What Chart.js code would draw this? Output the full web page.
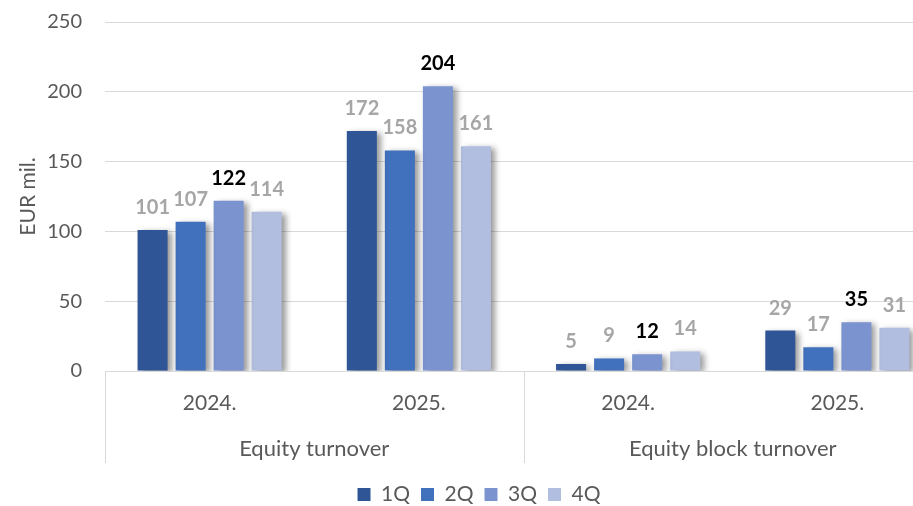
<!DOCTYPE html>
<html>
<head>
<meta charset="utf-8">
<script src="https://cdn.jsdelivr.net/npm/chart.js@4.4.1/dist/chart.umd.min.js"></script>
<style>
  body { margin: 0; background: #fff; }
  #wrap { width: 913px; height: 506px; overflow: hidden; position: relative; }
  canvas { display: block; }
</style>
</head>
<body>
<div id="wrap"><canvas id="chart" width="950" height="515"></canvas></div>
<script>
// DATA
const years = ["2024.", "2025.", "2024.", "2025."];
const groups = ["Equity turnover", "Equity block turnover"];
const q1 = [101, 172, 5, 29];
const q2 = [107, 158, 9, 17];
const q3 = [122, 204, 12, 35];
const q4 = [114, 161, 14, 31];
const yTicks = [0, 50, 100, 150, 200, 250];

const FONT = "Lato, 'Open Sans', sans-serif";
const TEXT = "#595959";
const GRID = "#D9D9D9";

// bar shadow
const shadowPlugin = {
  id: "shadow",
  beforeDatasetsDraw(chart) {
    const ctx = chart.ctx;
    ctx.save();
    ctx.shadowColor = "rgba(0,0,0,0.4)";
    ctx.shadowBlur = 6;
    ctx.shadowOffsetX = 4;
    ctx.shadowOffsetY = 2;
  },
  afterDatasetsDraw(chart) {
    chart.ctx.restore();
  }
};

// value labels above bars
const labelPlugin = {
  id: "valueLabels",
  afterDatasetsDraw(chart) {
    const ctx = chart.ctx;
    ctx.save();
    ctx.font = "bold 20px " + FONT;
    ctx.textAlign = "center";
    ctx.textBaseline = "alphabetic";
    chart.data.datasets.forEach((ds, i) => {
      const meta = chart.getDatasetMeta(i);
      meta.data.forEach((bar, j) => {
        ctx.fillStyle = i === 2 ? "#000000" : "#A6A6A6";
        ctx.fillText(ds.data[j], bar.x, bar.y - 16);
      });
    });
    ctx.restore();
  }
};

// multi level category axis: years, groups and separators
const groupAxisPlugin = {
  id: "groupAxis",
  afterDraw(chart) {
    const ctx = chart.ctx;
    const x = chart.scales.x;
    const top = chart.chartArea.bottom;
    const bottom = top + 92;
    const step = (x.right - x.left) / years.length;
    ctx.save();
    ctx.strokeStyle = GRID;
    ctx.lineWidth = 1;
    [0, 2, 4].forEach((k) => {
      const px = Math.round(x.left + k * step) + 0.5;
      ctx.beginPath();
      ctx.moveTo(px, top);
      ctx.lineTo(px, bottom);
      ctx.stroke();
    });
    ctx.fillStyle = TEXT;
    ctx.textAlign = "center";
    ctx.textBaseline = "middle";
    ctx.font = "21px " + FONT;
    years.forEach((y, i) => {
      ctx.fillText(y, x.getPixelForValue(i), top + 32);
    });
    ctx.font = "22px " + FONT;
    groups.forEach((g, k) => {
      const cx = x.left + (k * 2 + 1) * step;
      ctx.fillText(g, cx, top + 78);
    });
    ctx.restore();
  }
};

const ctx = document.getElementById("chart").getContext("2d");

const chart = new Chart(ctx, {
  type: "bar",
  data: {
    labels: years,
    datasets: [
      { label: "1Q", data: q1, backgroundColor: "#2F5597" },
      { label: "2Q", data: q2, backgroundColor: "#4170BC" },
      { label: "3Q", data: q3, backgroundColor: "#7B94D0" },
      { label: "4Q", data: q4, backgroundColor: "#B1BEE0" }
    ]
  },
  options: {
    responsive: false,
    animation: false,
    devicePixelRatio: 1,
    categoryPercentage: 0.727,
    barPercentage: 0.79,
    layout: { padding: { top: 22, right: 8, left: 16, bottom: 0 } },
    plugins: {
      tooltip: { enabled: false },
      legend: {
        position: "bottom",
        labels: {
          color: TEXT,
          font: { family: FONT, size: 21, lineHeight: 1 },
          boxWidth: 13,
          boxHeight: 13,
          padding: 11
        }
      }
    },
    scales: {
      y: {
        min: 0,
        max: 250,
        afterBuildTicks(scale) {
          scale.ticks = yTicks.map((v) => ({ value: v }));
        },
        afterFit(scale) {
          scale.width = 89;
          scale.paddingTop = 0;
          scale.paddingBottom = 0;
        },
        border: { display: false },
        grid: { color: GRID, drawTicks: false },
        ticks: { color: TEXT, font: { family: FONT, size: 20 }, padding: 23 },
        title: {
          display: true,
          text: "EUR mil.",
          color: TEXT,
          font: { family: FONT, size: 21 },
          padding: 0
        }
      },
      x: {
        afterFit(scale) { scale.height = 102; },
        border: { display: true, color: GRID },
        grid: { display: false },
        ticks: { display: false }
      }
    }
  },
  plugins: [shadowPlugin, labelPlugin, groupAxisPlugin]
});
</script>
</body>
</html>
